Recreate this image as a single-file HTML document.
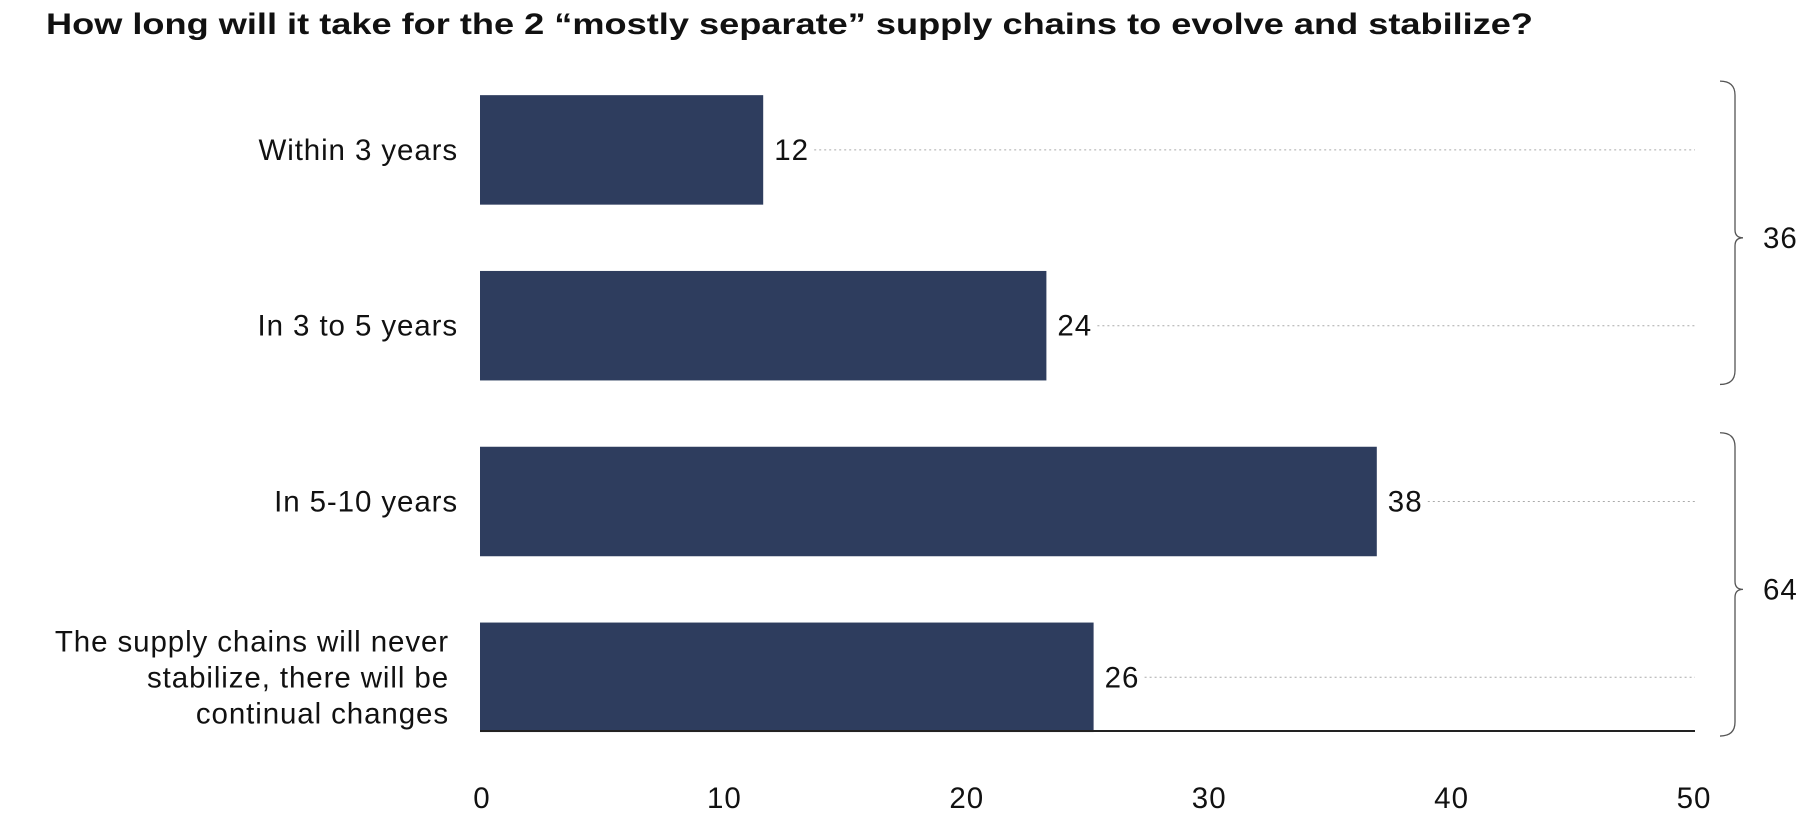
<!DOCTYPE html>
<html><head><meta charset="utf-8"><style>
html,body{margin:0;padding:0;background:#fff;}
svg{display:block;font-family:"Liberation Sans",Arial,sans-serif;}
</style></head><body>
<svg id="chart" width="1810" height="814" viewBox="0 0 1810 814">
<text x="46" y="34" font-size="30" font-weight="bold" fill="#111" textLength="1487" lengthAdjust="spacingAndGlyphs">How long will it take for the 2 “mostly separate” supply chains to evolve and stabilize?</text>
</svg>
<script>
const categories = [["Within 3 years"],["In 3 to 5 years"],["In 5-10 years"],["The supply chains will never","stabilize, there will be","continual changes"]];
const values = [12,24,38,26];
const ticks = [0,10,20,30,40,50];
const groupTotals = [36,64];
const groups = [[0,1],[2,3]];

const svg = document.getElementById('chart');
const NS = 'http://www.w3.org/2000/svg';
const x0 = 480, unit = 23.6, tickUnit = 24.24, axisEnd = 1695, baseY = 731;
const bandTop = 62, band = 175.8, barH = 109.5;
const xs = v => x0 + v*unit;
const xt = v => x0 + 2 + v*tickUnit;
const bandY = i => bandTop + i*band + (band-barH)/2;
function mk(tag, attrs){const e=document.createElementNS(NS,tag);for(const k in attrs)e.setAttribute(k,attrs[k]);svg.appendChild(e);return e;}
const FS = 29.5;

values.forEach((v,i)=>{
  const y = bandY(i), cy = y+barH/2;
  const lab = String(v);
  const lx = xs(v)+11;
  const line = mk('line',{x1:lx+lab.length*18+4,x2:axisEnd,y1:cy,y2:cy,stroke:'#aaa','stroke-width':1,'stroke-dasharray':'2,3'});
  
  
  const r = mk('rect',{x:x0,y:y,width:xs(v)-x0,height:barH,fill:'#2e3d5e'});
  
  
  const t = mk('text',{x:lx,y:cy+10,'font-size':FS,fill:'#111','letter-spacing':1});
  t.textContent = lab;
  
  
  const lines = categories[i];
  const lh = 36;
  lines.forEach((s,j)=>{
    const c = mk('text',{x:lines.length>1?449:458,y:cy+10+(j-(lines.length-1)/2)*lh,'font-size':FS,fill:'#111','text-anchor':'end','letter-spacing':0.9});
    c.textContent = s;
    
    
  });
});
const ax = mk('line',{x1:x0,x2:axisEnd,y1:baseY,y2:baseY,stroke:'#222','stroke-width':2});


ticks.forEach(t=>{
  const e = mk('text',{x:xt(t),y:808,'font-size':FS,fill:'#111','text-anchor':'middle','letter-spacing':1});
  e.textContent = t;
  
  
});
groups.forEach((g,k)=>{
  const top = bandY(g[0]) - 14, bot = bandY(g[1]) + barH + 4;
  const mid = (top+bot)/2 + 5, bx = 1735, r = 8;
  const d = `M${bx-15},${top} Q${bx},${top} ${bx},${top+r+6} L${bx},${mid-8} Q${bx},${mid} ${bx+8},${mid} Q${bx},${mid} ${bx},${mid+8} L${bx},${bot-r-6} Q${bx},${bot} ${bx-15},${bot}`;
  const p = mk('path',{d:d,fill:'none',stroke:'#555','stroke-width':1.3});
  
  
  const t = mk('text',{x:1763,y:mid+10,'font-size':FS,fill:'#111','letter-spacing':1});
  t.textContent = groupTotals[k];
  
  
});
</script>
</body></html>
